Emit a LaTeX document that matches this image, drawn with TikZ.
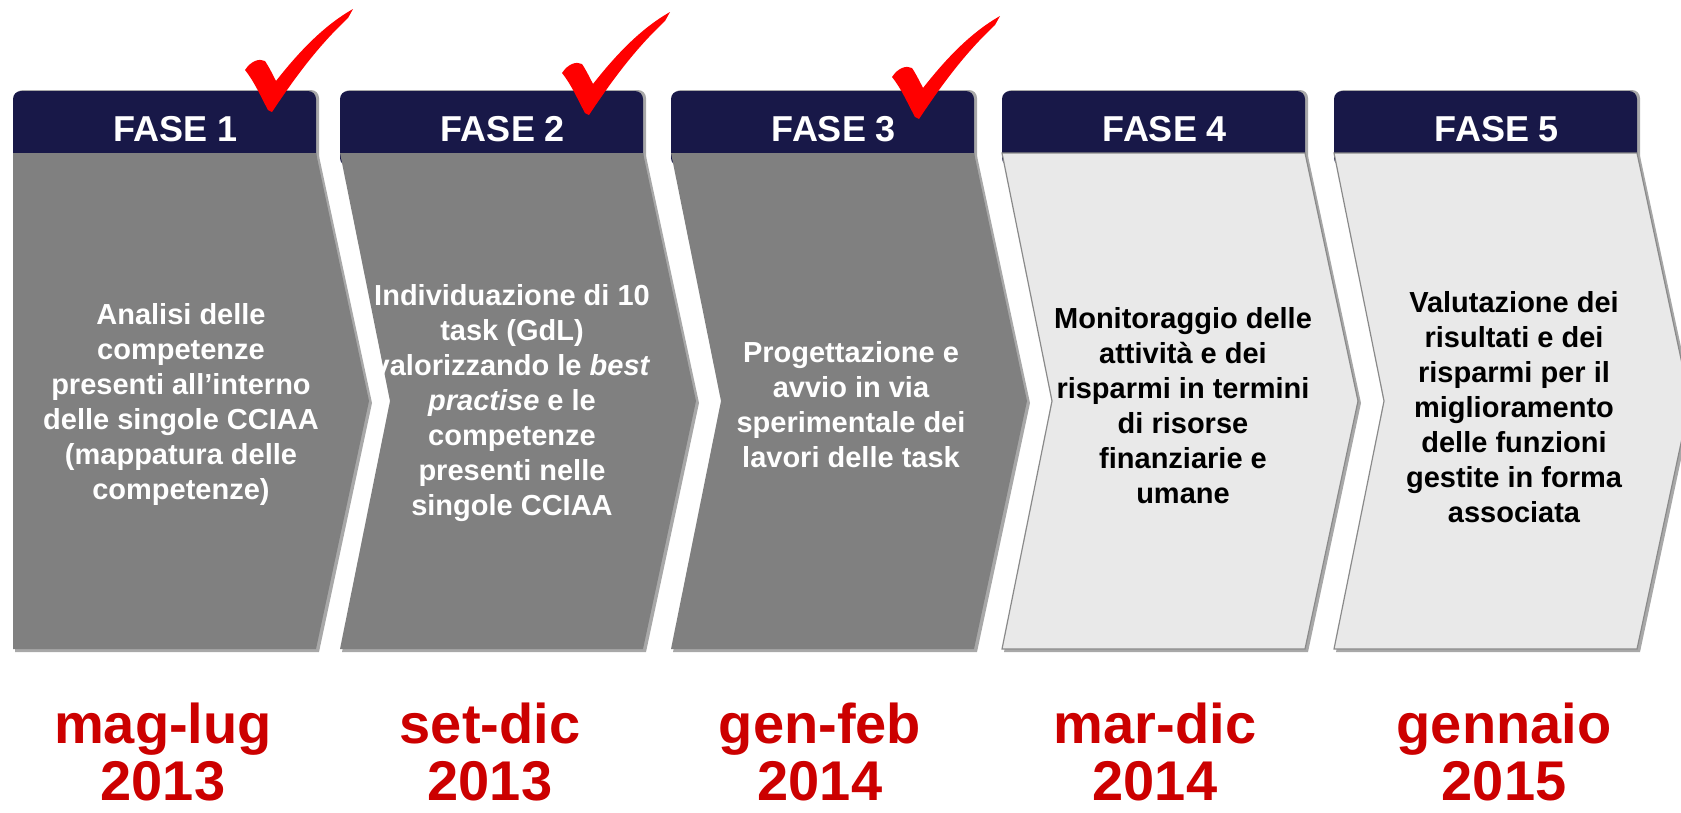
\documentclass[tikz,border=0pt]{standalone}
\usepackage{fontspec}
\setmainfont{Liberation Sans}
\definecolor{navy}{HTML}{181848}
\definecolor{darkbody}{HTML}{808080}
\definecolor{lightbody}{HTML}{E9E9E9}
\definecolor{edgegray}{HTML}{8A8A8A}
\definecolor{shadowgray}{HTML}{A8A8A8}
\definecolor{datered}{HTML}{CC0000}
\definecolor{checkred}{HTML}{FF0000}
\begin{document}
\begin{tikzpicture}[x=1pt,y=-1pt,
  headtxt/.style={text=white, font=\fontsize{36}{36}\selectfont\bfseries, inner sep=0pt},
  bodytxt/.style={align=center, font=\fontsize{29}{35}\selectfont\bfseries, inner sep=0pt},
  datetxt/.style={align=center, text=datered, font=\fontsize{56}{57}\selectfont\bfseries, inner sep=0pt},
  checkmark/.style={fill=checkred},
  headbox/.style={fill=navy, rounded corners=8pt},
  shadowbox/.style={fill=shadowgray, rounded corners=8pt}]
\useasboundingbox (0,0) rectangle (1681,812);
\clip (0,0) rectangle (1681,812);
% chevrons
\foreach \L/\fc/\n in {13/darkbody/1, 340/darkbody/2, 671/darkbody/3, 1002/lightbody/4, 1334/lightbody/5}{
  % shadows
  \fill[shadowbox] ({\L+2},90) rectangle ({\L+306},166);
  \ifnum\n=1
    \fill[shadowgray] ({\L+2},156) -- ({\L+306},156) -- ({\L+359},403) -- ({\L+306},652) -- ({\L+2},652) -- cycle;
  \else
    \fill[shadowgray] ({\L+2},156) -- ({\L+306},156) -- ({\L+359},403) -- ({\L+306},652) -- ({\L+2},652) -- ({\L+52},403) -- cycle;
  \fi
  % header
  \fill[headbox] (\L,91) rectangle ({\L+303},166);
  % body
  \ifnum\n=1
    \fill[\fc] (\L,153) -- ({\L+303},153) -- ({\L+356},401) -- ({\L+303},649) -- (\L,649) -- cycle;
  \else
    \ifnum\n>3
      \filldraw[fill=\fc, draw=edgegray, line width=1.2pt] (\L,153) -- ({\L+303},153) -- ({\L+356},401) -- ({\L+303},649) -- (\L,649) -- ({\L+50},401) -- cycle;
    \else
      \fill[\fc] (\L,153) -- ({\L+303},153) -- ({\L+356},401) -- ({\L+303},649) -- (\L,649) -- ({\L+50},401) -- cycle;
    \fi
  \fi
  \node[headtxt] (h\n) at ({\L+163},129) {FASE \n};
}
% body texts
\node[bodytxt, text=white] (t1) at (181,404) {Analisi delle\\competenze\\presenti all’interno\\delle singole CCIAA\\(mappatura delle\\competenze)};
\node[bodytxt, text=white] (t2) at (512,403) {Individuazione di 10\\task (GdL)\\valorizzando le \textit{best}\\\textit{practise} e le\\competenze\\presenti nelle\\singole CCIAA};
\node[bodytxt, text=white] (t3) at (851,405) {Progettazione e\\avvio in via\\sperimentale dei\\lavori delle task};
\node[bodytxt, text=black] (t4) at (1183,406) {Monitoraggio delle\\attività e dei\\risparmi in termini\\di risorse\\finanziarie e\\umane};
\node[bodytxt, text=black] (t5) at (1514,407) {Valutazione dei\\risultati e dei\\risparmi per il\\miglioramento\\delle funzioni\\gestite in forma\\associata};
% dates
\node[datetxt] (d1) at (163,752) {mag-lug\\2013};
\node[datetxt] (d2) at (490,752) {set-dic\\2013};
\node[datetxt] (d3) at (820,752) {gen-feb\\2014};
\node[datetxt] (d4) at (1155,752) {mar-dic\\2014};
\node[datetxt] (d5) at (1504,752) {gennaio\\2015};
% check marks
\foreach \bx/\by in {268/110, 585/113, 915/117}{
  \begin{scope}[shift={(\bx,\by)}]
    \fill[checkmark] (0,0) .. controls (-7,-13) and (-14,-29) .. (-23,-40)
      .. controls (-17,-49) and (-9,-52) .. (-3,-49)
      .. controls (1,-43) and (5,-35) .. (8,-29)
      .. controls (30,-57) and (55,-84) .. (85,-101)
      -- (80,-92)
      .. controls (48,-62) and (24,-28) .. (4,2) -- cycle;
  \end{scope}
}
\end{tikzpicture}
\end{document}
